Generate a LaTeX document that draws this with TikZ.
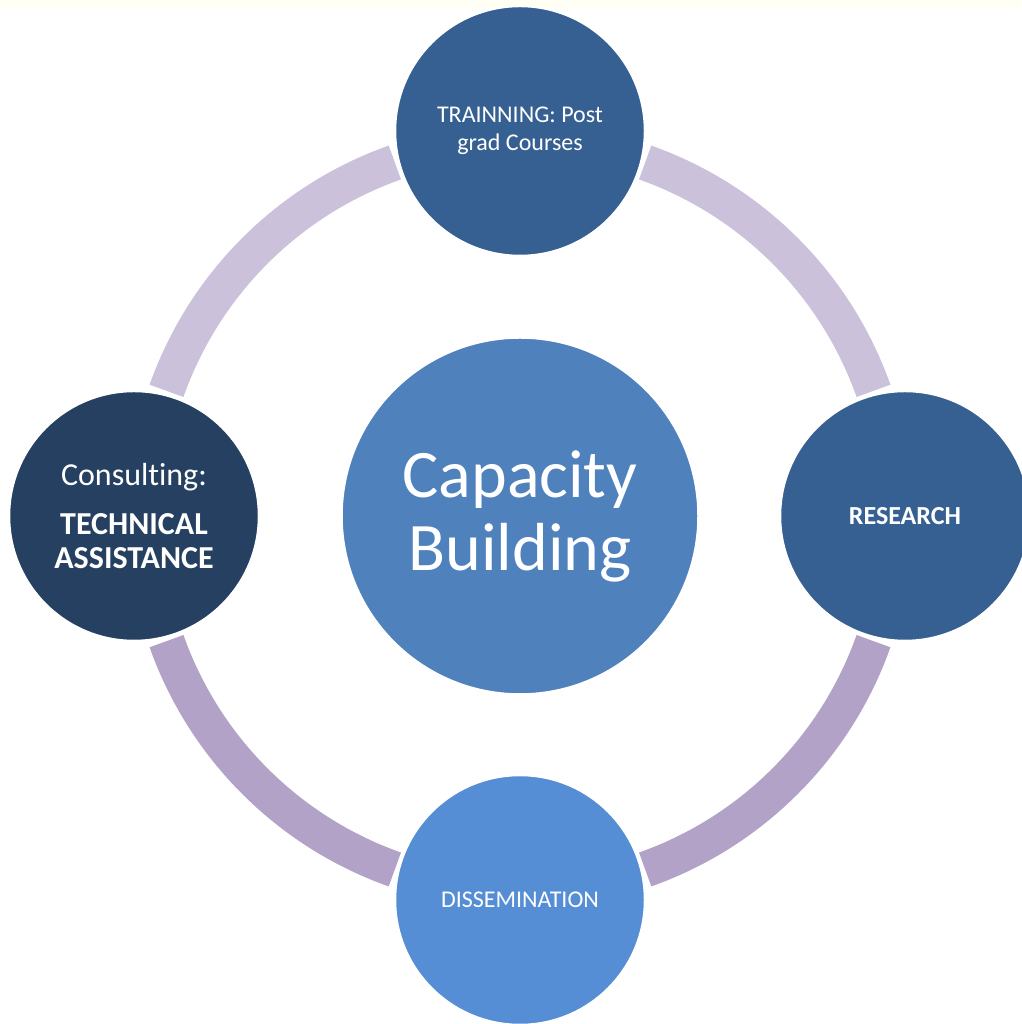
\documentclass[tikz,border=0pt]{standalone}
\usepackage{fontspec}
\setmainfont{Carlito}[Ligatures=NoCommon]
\usepackage{xcolor}
\usetikzlibrary{positioning}

\begin{document}
\begin{tikzpicture}[x=1pt,y=1pt,
  hub/.style={circle,draw=white,line width=1.5pt,inner sep=0pt,outer sep=0pt,
    minimum size=356pt,text=white,align=center},
  spoke/.style={circle,draw=white,line width=1.5pt,inner sep=0pt,outer sep=0pt,
    minimum size=249pt,text=white,align=center},
  ring/.style={line width=36pt,line cap=butt}]
\definecolor{fillColor}{RGB}{255,255,255}
\definecolor{stripColor}{RGB}{255,255,243}
\definecolor{ringUpper}{RGB}{203,193,218}
\definecolor{ringLower}{RGB}{179,162,199}
\definecolor{hubColor}{RGB}{79,129,189}
\definecolor{spokeColor}{RGB}{54,96,146}
\definecolor{consultColor}{RGB}{38,64,97}
\definecolor{dissemColor}{RGB}{85,142,213}
\path[use as bounding box,fill=fillColor] (0,0) rectangle (1021,1024);
\path[fill=stripColor] (0,1016) rectangle (1021,1024);

\coordinate (c) at (520,508);

% ring segments between the outer circles
\draw[ring,draw=ringUpper] ([shift={(c)}]19.5:375) arc (19.5:70.5:375);
\draw[ring,draw=ringUpper] ([shift={(c)}]109.5:375) arc (109.5:160.5:375);
\draw[ring,draw=ringLower] ([shift={(c)}]199.5:375) arc (199.5:250.5:375);
\draw[ring,draw=ringLower] ([shift={(c)}]289.5:375) arc (289.5:340.5:375);

\node[hub,fill=hubColor,font=\fontsize{68}{73}\selectfont] (cap) at (c)
  {Capacity\\Building};

\node[spoke,fill=spokeColor,font=\fontsize{24}{28}\selectfont] (train) at (520,893)
  {TRAINNING: Post\\grad Courses};
\node[spoke,fill=spokeColor,font=\fontsize{26}{30}\selectfont\bfseries] (research) at (905,508)
  {RESEARCH};
\node[spoke,fill=dissemColor,font=\fontsize{24}{28}\selectfont] (dissem) at (520,124)
  {DISSEMINATION};
\node[spoke,fill=consultColor,font=\fontsize{32}{34}\selectfont] (consult) at (134,508)
  {Consulting:\\[15pt]\bfseries TECHNICAL\\\bfseries ASSISTANCE};
\end{tikzpicture}
\end{document}
